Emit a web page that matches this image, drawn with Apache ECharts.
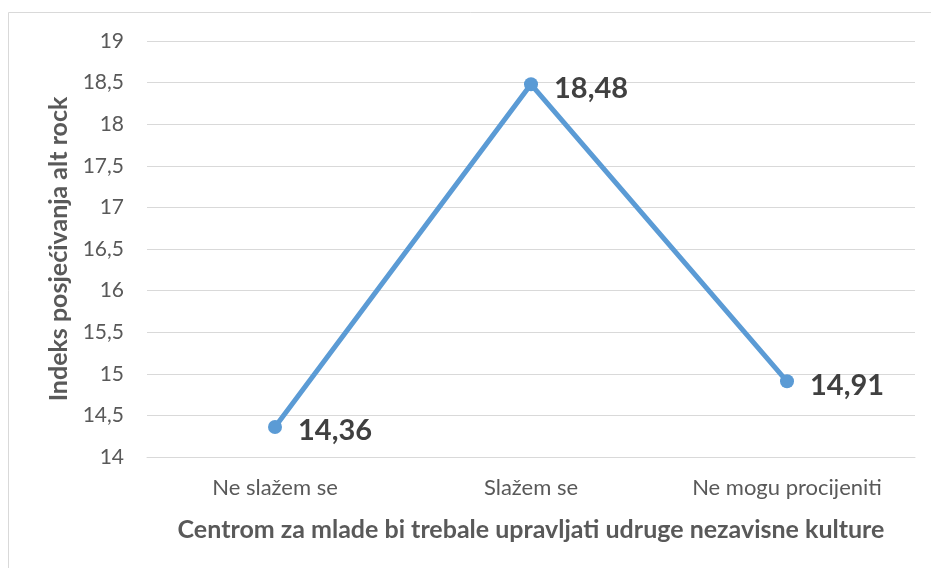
<!DOCTYPE html>
<html>
<head>
<meta charset="utf-8">
<script src="https://cdn.jsdelivr.net/npm/echarts@6/dist/echarts.min.js"></script>
<style>
  html, body { margin: 0; padding: 0; background: #fff; }
  #chart { width: 931px; height: 568px; }
</style>
</head>
<body>
<div id="chart"></div>
<script>
var categories = ['Ne slažem se', 'Slažem se', 'Ne mogu procijeniti'];
var values = [14.36, 18.48, 14.91];
var yTitle = 'Indeks posjećivanja alt rock';
var xTitle = 'Centrom za mlade bi trebale upravljati udruge nezavisne kulture';

function comma(v) {
    return String(v).replace('.', ',');
}

(function() {
    var font = 'Lato';
    var option = {
        animation: false,
        textStyle: { fontFamily: font },
        grid: {
            left: 147,
            right: 16,
            top: 41,
            bottom: 111
        },
        graphic: [{
            type: 'rect',
            shape: { x: 8.5, y: 12.5, width: 940, height: 600 },
            style: { fill: 'none', stroke: '#d9d9d9', lineWidth: 1 },
            silent: true
        }],
        xAxis: {
            type: 'category',
            data: categories,
            boundaryGap: true,
            axisLine: { show: true, lineStyle: { color: '#d9d9d9', width: 1 } },
            axisTick: { show: false },
            axisLabel: { color: '#595959', fontSize: 22, margin: 20, fontFamily: font },
            name: xTitle,
            nameLocation: 'middle',
            nameGap: 60,
            nameTextStyle: { color: '#595959', fontSize: 25, fontWeight: 'bold', fontFamily: font }
        },
        yAxis: {
            type: 'value',
            min: 14,
            max: 19,
            interval: 0.5,
            axisLine: { show: false },
            axisTick: { show: false },
            splitLine: { lineStyle: { color: '#d9d9d9', width: 1 } },
            axisLabel: {
                color: '#595959',
                fontSize: 21,
                margin: 23,
                fontFamily: font,
                formatter: function(v) { return comma(v); }
            },
            name: yTitle,
            nameLocation: 'middle',
            nameGap: 75,
            nameRotate: 90,
            nameTextStyle: { color: '#595959', fontSize: 25, fontWeight: 'bold', fontFamily: font }
        },
        series: [{
            type: 'line',
            data: values,
            symbol: 'circle',
            symbolSize: 14,
            itemStyle: { color: '#5b9bd5' },
            lineStyle: { color: '#5b9bd5', width: 5 },
            label: {
                show: true,
                position: 'right',
                distance: 16,
                offset: [0, 4],
                color: '#404040',
                fontSize: 29,
                fontWeight: 'bold',
                fontFamily: font,
                formatter: function(p) { return comma(p.value); }
            }
        }]
    };
    var myChart = echarts.init(document.getElementById('chart'));
    myChart.setOption(option);
})();
</script>
</body>
</html>
